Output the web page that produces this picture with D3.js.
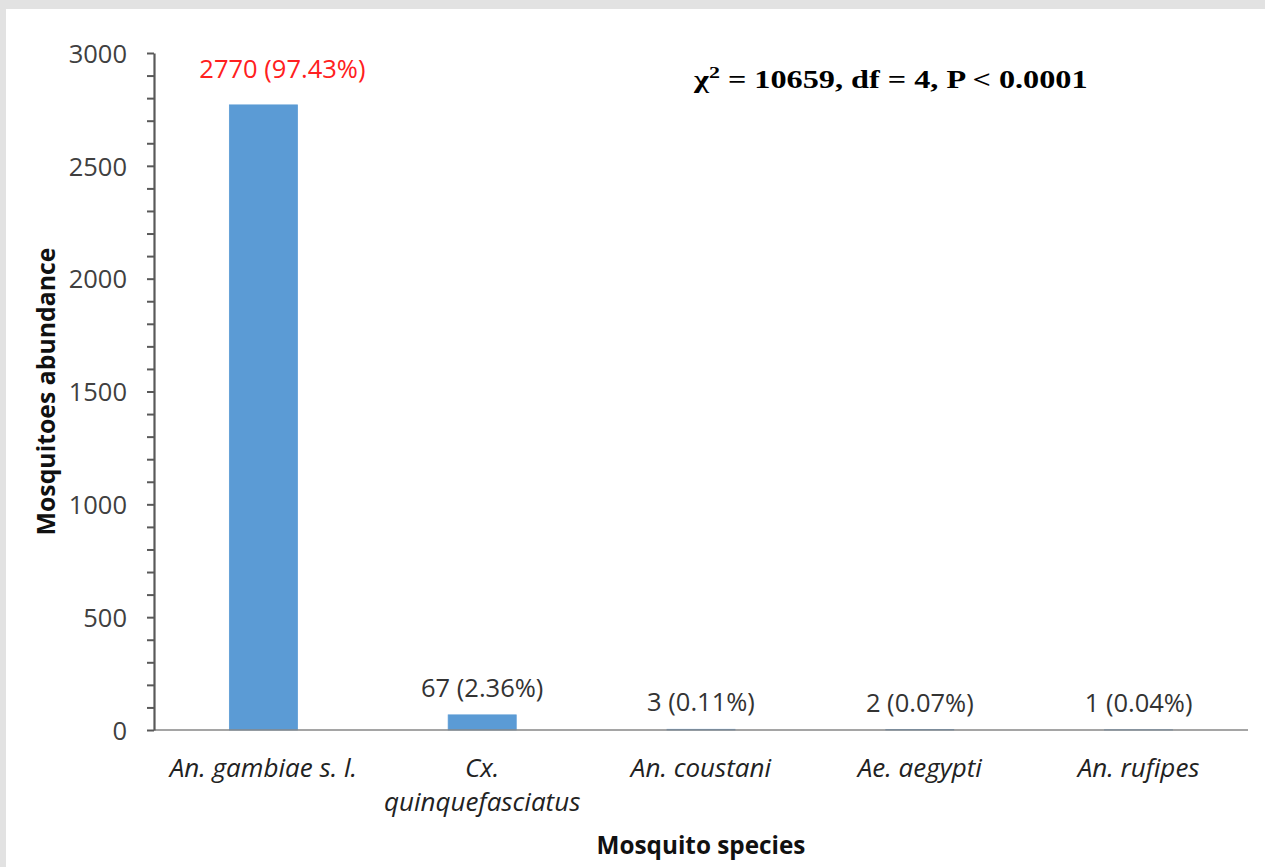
<!DOCTYPE html>
<html>
<head>
<meta charset="utf-8">
<script src="https://cdn.jsdelivr.net/npm/d3@7"></script>
<style>
  html, body { margin: 0; padding: 0; background: #e2e2e2; }
  svg { display: block; }
</style>
</head>
<body>
<svg id="chart" width="1265" height="867"></svg>
<script>
// ---- data ----
const categories = [["An. gambiae s. l."], ["Cx.", "quinquefasciatus"], ["An. coustani"], ["Ae. aegypti"], ["An. rufipes"]];
const categoryKeys = ["An. gambiae s. l.", "Cx. quinquefasciatus", "An. coustani", "Ae. aegypti", "An. rufipes"];
const counts = [2770, 67, 3, 2, 1];
const percents = ["97.43%", "2.36%", "0.11%", "0.07%", "0.04%"];
const yMajorTicks = [0, 500, 1000, 1500, 2000, 2500, 3000];
const yMinorTicks = d3.range(0, 3001, 100);
const yTitle = "Mosquitoes abundance";
const xTitle = "Mosquito species";
const statText = ["χ", "2", " = 10659, df = 4, P < 0.0001"];

// ---- layout ----
const svg = d3.select("#chart");
const W = 1265, H = 867;
const plot = { left: 154, right: 1248, top: 53, bottom: 730 };

svg.append("rect").attr("x", 6).attr("y", 9).attr("width", W - 6).attr("height", H - 9).attr("fill", "#ffffff");

const x = d3.scaleBand().domain(categoryKeys).range([plot.left, plot.right]).paddingInner(0.689).paddingOuter(0.3445);
const y = d3.scaleLinear().domain([0, 3000]).range([plot.bottom, plot.top]);

// bars
svg.append("g").selectAll("rect").data(counts).join("rect")
  .attr("x", (d, i) => x(categoryKeys[i]))
  .attr("width", x.bandwidth())
  .attr("y", d => y(d))
  .attr("height", d => y(0) - y(d))
  .attr("fill", "#5b9bd5")
  .attr("stroke", "#5b9bd5").attr("stroke-width", 0.8);

// x axis line
const xAxis = svg.append("g").attr("transform", `translate(0,${plot.bottom})`)
  .call(d3.axisBottom(x).tickSize(0).tickFormat(""));
xAxis.select(".domain").attr("stroke", "#878787").attr("stroke-width", 1.6).attr("d", `M${plot.left},0H${plot.right}`);

// y axis with minor ticks
const yAxisMinor = svg.append("g").attr("transform", `translate(${plot.left},0)`)
  .call(d3.axisLeft(y).tickValues(yMinorTicks).tickSize(7).tickSizeOuter(0).tickFormat(""));
yAxisMinor.select(".domain").attr("stroke", "#595959").attr("stroke-width", 2.2);
yAxisMinor.selectAll(".tick line").attr("stroke", "#595959").attr("stroke-width", 2);

const yAxis = svg.append("g").attr("transform", `translate(${plot.left},0)`)
  .call(d3.axisLeft(y).tickValues(yMajorTicks).tickSize(0).tickPadding(27).tickFormat(d3.format("d")));
yAxis.select(".domain").remove();
yAxis.selectAll(".tick text")
  .attr("font-family", "'Open Sans', sans-serif").attr("font-size", 25.5).attr("fill", "#404040")
  .attr("dy", "0.36em");

// data labels
const maxCount = d3.max(counts);
svg.append("g").selectAll("text").data(counts).join("text")
  .attr("x", (d, i) => x(categoryKeys[i]) + x.bandwidth() / 2)
  .attr("dx", d => d === maxCount ? 19 : 0)
  .attr("y", d => y(d) - (d === maxCount ? 27 : 18))
  .attr("text-anchor", "middle")
  .attr("font-family", "'Open Sans', sans-serif").attr("font-size", 25.5)
  .attr("fill", (d, i) => i === 0 ? "#ff2020" : "#333333")
  .text((d, i) => `${d} (${percents[i]})`);

// category labels
const catG = svg.append("g");
categories.forEach((lines, i) => {
  const cx = x(categoryKeys[i]) + x.bandwidth() / 2;
  const t = catG.append("text")
    .attr("x", cx)
    .attr("y", plot.bottom + 47)
    .attr("text-anchor", "middle")
    .attr("font-family", "'Open Sans', sans-serif").attr("font-size", 26)
    .attr("font-style", "italic").attr("fill", "#222222");
  lines.forEach((ln, j) => {
    t.append("tspan").attr("x", cx).attr("dy", j === 0 ? 0 : 34).text(ln);
  });
});

// axis titles
svg.append("text")
  .attr("x", (plot.left + plot.right) / 2).attr("y", 854)
  .attr("text-anchor", "middle")
  .attr("font-family", "'Open Sans', sans-serif").attr("font-size", 24.3).attr("font-weight", "bold").attr("fill", "#111")
  .text(xTitle);

svg.append("text")
  .attr("transform", `translate(55,${(plot.top + plot.bottom) / 2}) rotate(-90)`)
  .attr("text-anchor", "middle")
  .attr("font-family", "'Open Sans', sans-serif").attr("font-size", 24.8).attr("font-weight", "bold").attr("fill", "#111")
  .text(yTitle);

// statistic annotation
const stat = svg.append("text")
  .attr("font-family", "'Liberation Serif', 'Times New Roman', serif").attr("font-size", 25).attr("font-weight", "bold")
  .attr("fill", "#000");
stat.append("tspan").text(statText[0]);
stat.append("tspan").attr("font-size", 17).attr("dy", -10).text(statText[1]);
stat.append("tspan").attr("dy", 10).text(statText[2]);
const bw = stat.node().getBBox().width;
const sx = 395 / bw;
stat.attr("transform", `translate(694,88) scale(${sx},1)`);
</script>
</body>
</html>
